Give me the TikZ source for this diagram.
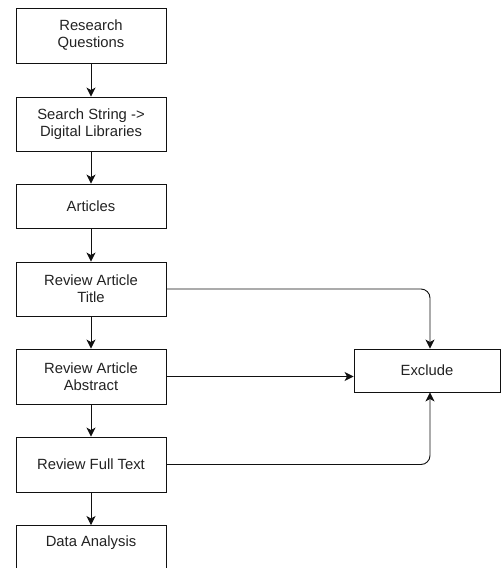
\documentclass[tikz,border=0pt]{standalone}
\usepackage{fontspec}
\setmainfont{Liberation Sans}
\usetikzlibrary{arrows.meta}
\definecolor{txt}{HTML}{222222}
\definecolor{ln}{HTML}{111111}
\begin{document}
\begin{tikzpicture}[x=1pt,y=-1pt,
  lbl/.style={text=txt,align=center,font=\fontsize{14.8}{17}\selectfont},
  box/.style={lbl,draw=ln,line width=0.9pt,minimum width=150pt,inner sep=0pt},
  arr/.style={draw=ln,line width=0.9pt,-{Stealth[length=9pt,width=9pt,inset=2.5pt]}},
  conn/.style={arr,rounded corners=9pt}]
\useasboundingbox (0,0) rectangle (501,568);
\clip (0,0) rectangle (501,568);
\node[box,minimum height=55pt] (rq) at (91,35.5) {Research\\Questions};
\node[box,minimum height=54pt] (ss) at (91,124) {Search String -\textgreater\\Digital Libraries};
\node[box,minimum height=44pt] (ar) at (91,206) {Articles};
\node[box,minimum height=54pt] (rt) at (91,289) {Review Article\\Title};
\node[box,minimum height=55pt] (ra) at (91,376.5) {Review Article\\Abstract};
\node[box,minimum height=55pt] (rf) at (91,464.5) {Review Full Text};
\node[lbl] (da) at (91,543) {Data Analysis};
\coordinate (datop) at (91,525);
\draw[draw=ln,line width=0.9pt] (16,600) -- (16,525) -- (166,525) -- (166,600);
\node[box,minimum width=146pt,minimum height=43pt] (ex) at (427,370.5) {Exclude};
\coordinate (cx) at (430,0);
\draw[arr] (rq) -- (ss);
\draw[arr] (ss) -- (ar);
\draw[arr] (ar) -- (rt);
\draw[arr] (rt) -- (ra);
\draw[arr] (ra) -- (rf);
\draw[arr] (rf) -- (datop);
\draw[conn] (rt.east) -- (rt.east -| cx) -- (ex.north -| cx);
\draw[arr] (ra.east) -- (ra.east -| ex.west);
\draw[conn] (rf.east) -- (rf.east -| cx) -- (ex.south -| cx);
\end{tikzpicture}
\end{document}
